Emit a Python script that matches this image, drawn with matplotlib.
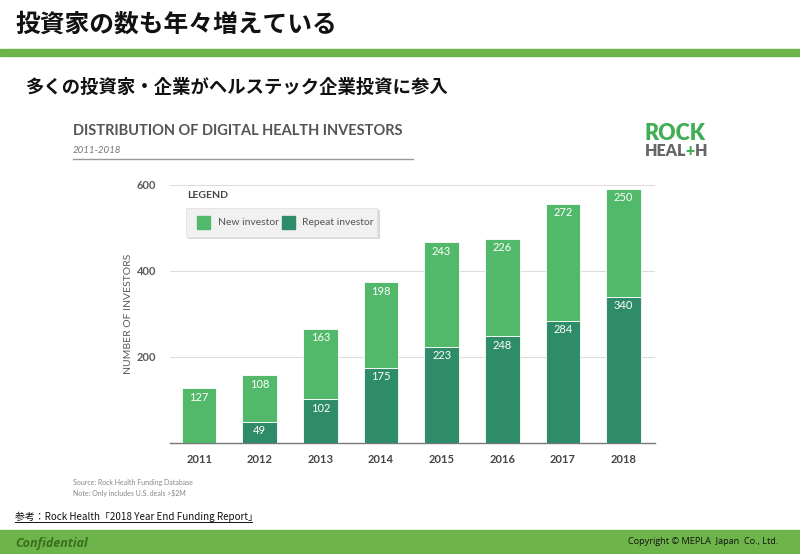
import matplotlib.pyplot as plt
from matplotlib.patches import Rectangle, FancyBboxPatch
import numpy as np

years = ["2011", "2012", "2013", "2014", "2015", "2016", "2017", "2018"]
repeat_investors = [0, 49, 102, 175, 223, 248, 284, 340]
new_investors = [127, 108, 163, 198, 243, 226, 272, 250]
y_ticks = [200, 400, 600]

NEW_COLOR = "#52b96a"
REPEAT_COLOR = "#2e8c68"
BAND_GREEN = "#6db54a"
GRAY = "#5a5a5a"

plt.rcParams['font.family'] = ['Lato', 'DejaVu Sans']
JP = ['Noto Sans CJK JP', 'DejaVu Sans']

fig = plt.figure(figsize=(8, 5.54), dpi=100)
W, H = 800, 554


def fx(px):
    return px / W


def fy(py):
    return 1 - py / H


# page header
fig.text(fx(15), fy(25), "投資家の数も年々増えている", family=JP, fontsize=17.8,
         fontweight="bold", va="center", ha="left", color="#111111")
fig.patches.append(Rectangle((0, fy(56)), 1, 7 / H, transform=fig.transFigure,
                             color=BAND_GREEN, zorder=1))
fig.text(fx(25), fy(87), "多くの投資家・企業がヘルステック企業投資に参入", family=JP,
         fontsize=13.2, fontweight="bold", va="center", ha="left", color="#111111")

# chart title block
fig.text(fx(73), fy(131), "DISTRIBUTION OF DIGITAL HEALTH INVESTORS", fontsize=10.5,
         fontweight="bold", color="#555555", va="center")
fig.text(fx(73), fy(150), "2011-2018", fontsize=7, style="italic", color="#777777",
         va="center")
fig.add_artist(plt.Line2D([fx(73), fx(413)], [fy(159), fy(159)], color="#999999", lw=1))

# logo
fig.text(fx(645), fy(134), "ROCK", fontsize=15.5, fontweight="heavy", color="#3fae54",
         va="center")
fig.canvas.draw()
renderer = fig.canvas.get_renderer()
cursor = 645
for part, col in [("HEAL", "#666666"), ("+", "#3fae54"), ("H", "#666666")]:
    t = fig.text(fx(cursor), fy(151), part, fontsize=11.5, fontweight="heavy",
                 color=col, va="center")
    cursor += t.get_window_extent(renderer).width - 0.5

# bars
ax = fig.add_axes([fx(170), fy(443), fx(655) - fx(170), fy(180) - fy(443)])
x = np.arange(len(years))
bw = 0.57
ax.bar(x, repeat_investors, bw, color=REPEAT_COLOR, edgecolor="white", linewidth=0.6,
       zorder=3)
ax.bar(x, new_investors, bw, bottom=repeat_investors, color=NEW_COLOR,
       edgecolor="white", linewidth=0.6, zorder=3)

for i in range(len(years)):
    if repeat_investors[i] > 0:
        ax.text(x[i], repeat_investors[i] - 8, str(repeat_investors[i]), ha="center",
                va="top", color="white", fontsize=8, zorder=4)
    top = repeat_investors[i] + new_investors[i]
    ax.text(x[i], top - 8, str(new_investors[i]), ha="center", va="top",
            color="white", fontsize=8, zorder=4)

ax.set_xlim(-0.48, 7.52)
ax.set_ylim(0, 611)
ax.set_yticks(y_ticks)
ax.set_yticklabels([str(t) for t in y_ticks], fontsize=8, fontweight="bold", color=GRAY)
ax.set_xticks(x)
ax.set_xticklabels(years, fontsize=8, fontweight="bold", color="#444444")
ax.tick_params(axis="both", length=0)
ax.tick_params(axis="y", pad=10)
ax.tick_params(axis="x", pad=8)
ax.grid(axis="y", color="#dddddd", lw=0.8, zorder=0)
for s in ["top", "right", "left"]:
    ax.spines[s].set_visible(False)
ax.spines["bottom"].set_color("#777777")
ax.spines["bottom"].set_linewidth(1.0)
ax.set_ylabel("NUMBER OF INVESTORS", fontsize=7.5, color=GRAY, labelpad=8)
ax.yaxis.set_label_coords((133 - 170) / (655 - 170), (443 - 314) / (443 - 180))

# legend
fig.text(fx(187), fy(196), "LEGEND", fontsize=7.5, fontweight="bold", color="#444444",
         va="center")
fig.patches.append(FancyBboxPatch((fx(188), fy(239)), fx(192), 29 / H,
                                  boxstyle="square,pad=0", transform=fig.transFigure,
                                  facecolor="#d8d8d8", edgecolor="none", zorder=5))
fig.patches.append(FancyBboxPatch((fx(186), fy(237)), fx(191), 29 / H,
                                  boxstyle="square,pad=0", transform=fig.transFigure,
                                  facecolor="#f1f1f1", edgecolor="#e2e2e2", lw=0.6,
                                  zorder=6))
fig.patches.append(Rectangle((fx(197), fy(229)), fx(13), 13 / H, transform=fig.transFigure,
                             color=NEW_COLOR, zorder=7))
fig.text(fx(218), fy(223), "New investor", fontsize=7.5, color="#555555", va="center",
         zorder=7)
fig.patches.append(Rectangle((fx(282), fy(229)), fx(13), 13 / H, transform=fig.transFigure,
                             color=REPEAT_COLOR, zorder=7))
fig.text(fx(302), fy(223), "Repeat investor", fontsize=7.5, color="#555555", va="center",
         zorder=7)

# source notes
fig.text(fx(73), fy(483), "Source: Rock Health Funding Database", fontsize=5,
         color="#888888", va="center")
fig.text(fx(73), fy(493), "Note: Only includes U.S. deals >$2M", fontsize=5,
         color="#888888", va="center")

# reference line
fig.text(fx(15), fy(517), "参考：Rock Health「2018 Year End Funding Report」",
         family=JP, fontsize=7.1, color="#111111", va="center")
fig.add_artist(plt.Line2D([fx(15), fx(252)], [fy(522), fy(522)], color="#111111", lw=0.7))

# footer band
fig.patches.append(Rectangle((0, 0), 1, 24 / H, transform=fig.transFigure,
                             color=BAND_GREEN, zorder=1))
fig.text(fx(15), fy(544), "Confidential", fontsize=9, style="italic", fontweight="bold",
         color="#3b6e1e", va="center", family=["Open Sans", "DejaVu Sans"])
fig.text(fx(778), fy(541), "Copyright © MEPLA  Japan  Co., Ltd.", fontsize=6.6,
         color="#111111", va="center", ha="right", family=["Open Sans", "DejaVu Sans"])

fig.savefig("out.png", dpi=100)
